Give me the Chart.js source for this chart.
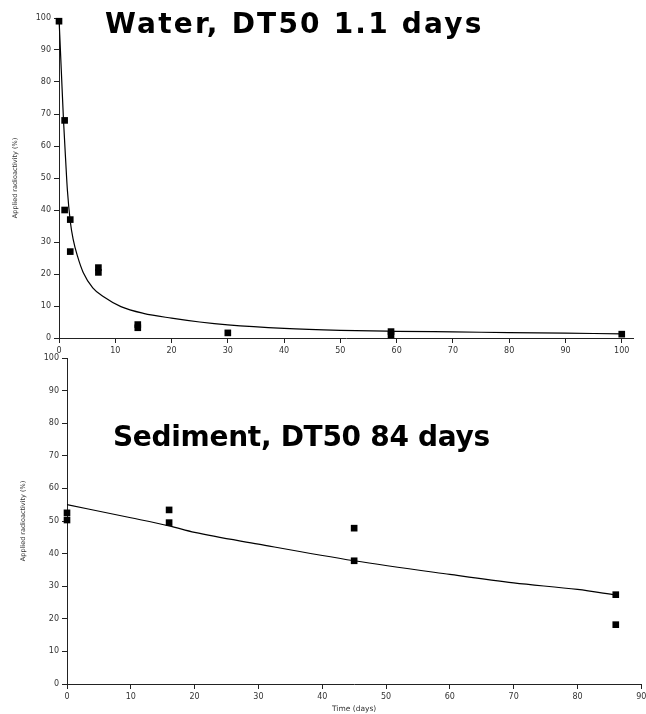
<!DOCTYPE html>
<html>
<head>
<meta charset="utf-8">
<script src="https://cdn.jsdelivr.net/npm/chart.js@4"></script>
<style>
  body { margin: 0; background: #fff; width: 646px; height: 714px; position: relative; overflow: hidden; }
  canvas { position: absolute; left: 0; }
  .ttl { position: absolute; font: bold 28px "DejaVu Sans"; line-height: 28px; white-space: nowrap; color: #000; }
</style>
</head>
<body>
<canvas id="water" width="646" height="360" style="top:0"></canvas>
<canvas id="sed" width="646" height="374" style="top:340px"></canvas>
<div class="ttl" style="left:105px;top:10px;letter-spacing:2.2px">Water, DT50 1.1 days</div>
<div class="ttl" style="left:113px;top:423px;letter-spacing:-0.3px">Sediment, DT50 84 days</div>
<script>
// measured points, water phase
const waterDays = [0, 1, 1, 2, 2, 7, 7, 14, 14, 30, 59, 59, 100];
const waterPct  = [99, 68, 40, 37, 27, 22, 20.5, 4.2, 3.2, 1.6, 2, 1, 1.2];
// fitted curve
const waterFitDays = [0, 0.4, 0.8, 1.2, 1.5, 2, 2.5, 3.3, 4.3, 6, 8, 11, 15, 20, 25, 30, 40, 50, 60, 70, 80, 90, 100];
const waterFitPct  = [100, 84, 68, 55, 46, 36.5, 31, 25.5, 20.5, 15.7, 12.8, 9.8, 7.7, 6.2, 5, 4.1, 3.0, 2.4, 2.1, 1.9, 1.7, 1.5, 1.3];
const waterXTicks = [0, 10, 20, 30, 40, 50, 60, 70, 80, 90, 100];

// measured points, sediment
const sedDays = [0, 0, 16, 16, 45, 45, 86, 86];
const sedPct  = [52.5, 50.3, 53.4, 49.5, 47.8, 37.8, 27.4, 18.2];
const sedFitDays = [0, 10, 16, 20, 30, 45, 60, 70, 80, 86];
const sedFitPct  = [55, 51, 48.5, 46.5, 42.9, 37.8, 33.6, 31, 29, 27.3];
const sedXTicks = [0, 10, 20, 30, 40, 50, 60, 70, 80, 90];

const yTicks = [0, 10, 20, 30, 40, 50, 60, 70, 80, 90, 100];

const pts = (xs, ys) => xs.map((x, i) => ({ x, y: ys[i] }));
const tickFont = { family: "DejaVu Sans", size: 8 };

function axis(extra) {
  return Object.assign({
    type: "linear",
    grid: { display: true, drawOnChartArea: false, drawTicks: true, tickLength: 5, color: "#222", lineWidth: 1 },
    border: { display: true, color: "#222", width: 1 },
    ticks: { font: tickFont, color: "#333", padding: 3, maxRotation: 0, autoSkip: false },
  }, extra);
}

function decayChart(id, o) {
  return new Chart(document.getElementById(id), {
    type: "scatter",
    data: {
      datasets: [
        { data: pts(o.fitX, o.fitY), showLine: true, pointRadius: 0, borderColor: "#000",
          borderWidth: 1.2, cubicInterpolationMode: "monotone", clip: false },
        { data: pts(o.x, o.y), pointStyle: "rect", pointRadius: 4.7, backgroundColor: "#000",
          borderWidth: 0, clip: false },
      ],
    },
    options: {
      responsive: false, animation: false,
      layout: { padding: { top: o.padTop, right: o.padRight, left: 0, bottom: 0 } },
      plugins: { legend: { display: false }, tooltip: { enabled: false } },
      scales: {
        x: axis({
          min: 0, max: o.xMax,
          title: o.xTitle ? { display: true, text: o.xTitle, color: "#333",
            font: { family: "DejaVu Sans", size: 7.5 }, padding: 0 } : { display: false },
          afterBuildTicks: (s) => { s.ticks = o.xTicks.map((v) => ({ value: v })); },
          afterFit: (s) => { s.height = o.xHeight; s.paddingLeft = 0; s.paddingRight = 0; },
        }),
        y: axis({
          min: 0, max: 100,
          title: { display: true, text: "Applied radioactivity (%)", color: "#333",
            font: { family: "DejaVu Sans", size: 6.5 }, padding: { top: o.yTitlePad, bottom: 0 } },
          afterBuildTicks: (s) => { s.ticks = yTicks.map((v) => ({ value: v })); },
          afterFit: (s) => { s.width = o.yWidth; s.paddingTop = 0; s.paddingBottom = 0; },
        }),
      },
    },
  });
}

decayChart("water", {
  x: waterDays, y: waterPct, fitX: waterFitDays, fitY: waterFitPct, xTicks: waterXTicks,
  xMax: 102, padTop: 18, padRight: 13, xHeight: 22, yWidth: 59, yTitlePad: 11,
});
decayChart("sed", {
  x: sedDays, y: sedPct, fitX: sedFitDays, fitY: sedFitPct, xTicks: sedXTicks,
  xMax: 90, padTop: 18, padRight: 4, xHeight: 30, yWidth: 67, yTitlePad: 19, xTitle: "Time (days)",
});
</script>
</body>
</html>
